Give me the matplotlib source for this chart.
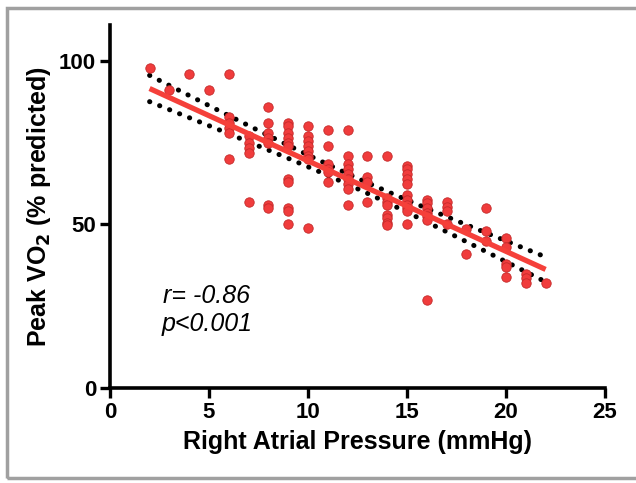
import numpy as np
import matplotlib
matplotlib.use("Agg")
import matplotlib.pyplot as plt
from matplotlib.patches import Rectangle

plt.rcParams['font.family'] = ['Liberation Sans', 'DejaVu Sans']

# Data: right atrial pressure (mmHg) vs peak VO2 (% predicted)
rap_values = {
    2: [98],
    3: [91],
    4: [96],
    5: [91],
    6: [96, 83, 81, 79.5, 78, 70],
    7: [77, 75, 73.5, 72, 57],
    8: [86, 81, 78, 76.5, 75, 56, 55],
    9: [81, 80, 78, 76.5, 75, 74, 64, 63, 55, 54, 50],
    10: [80, 77, 75.5, 74, 72.5, 71, 70, 49],
    11: [79, 74, 68.5, 67, 66, 63],
    12: [79, 71, 68.5, 67, 65.5, 64, 62.5, 61, 56],
    13: [71, 64.5, 63, 57],
    14: [71, 58, 57, 56, 53, 52, 50.5, 49.7],
    15: [68, 67, 65.5, 64, 62.5, 59, 57.5, 56, 55, 54, 50],
    16: [57.5, 56.5, 55, 53.5, 52.5, 51.5, 27],
    17: [57, 55.5, 54, 50],
    18: [48.5, 41],
    19: [55, 48, 45],
    20: [46, 43, 38, 37, 34],
    21: [35, 33.5, 32],
    22: [32],
}
x_ticks = [0, 5, 10, 15, 20, 25]
y_ticks = [0, 50, 100]
r_text = "r= -0.86"
p_text = "p<0.001"

rap = np.array([k for k, vs in rap_values.items() for _ in vs], dtype=float)
vo2 = np.array([v for vs in rap_values.values() for v in vs], dtype=float)

# Linear fit with 95% CI
n = len(rap)
slope, intercept = np.polyfit(rap, vo2, 1)
xf = np.linspace(rap.min(), rap.max(), 200)
yf = intercept + slope * xf
resid = vo2 - (intercept + slope * rap)
s = np.sqrt(np.sum(resid ** 2) / (n - 2))
xm = rap.mean()
sxx = np.sum((rap - xm) ** 2)
se = s * np.sqrt(1.0 / n + (xf - xm) ** 2 / sxx)
tval = 1.98
lo = yf - tval * se
hi = yf + tval * se

fig = plt.figure(figsize=(6.36, 4.83), dpi=100)
ax = fig.add_axes([110 / 636, 1 - 388 / 483, 495 / 636, 363 / 483])

red = '#f03c3c'
ax.scatter(rap, vo2, s=46, color=red, edgecolor='#c42a2a', linewidth=0.6, zorder=3)
ax.plot(xf, yf, color='#f5403a', lw=3.8, solid_capstyle='butt', zorder=4)
for band in (lo, hi):
    ax.plot(xf, band, color='black', lw=3.6, linestyle=(0, (0.05, 2.1)),
            dash_capstyle='round', zorder=2)

ax.set_xlim(0, 25)
ax.set_ylim(0, 111)
ax.set_xticks(x_ticks)
ax.set_yticks(y_ticks)
ax.spines['top'].set_visible(False)
ax.spines['right'].set_visible(False)
for sp in ('left', 'bottom'):
    ax.spines[sp].set_linewidth(2.6)
ax.tick_params(width=2.4, length=7, labelsize=16, pad=3)
for lab in ax.get_xticklabels() + ax.get_yticklabels():
    lab.set_fontweight('bold')

ax.set_xlabel('Right Atrial Pressure (mmHg)', fontsize=18, fontweight='bold', labelpad=5)
ax.set_ylabel('Peak VO$_\\mathbf{2}$ (% predicted)', fontsize=18, fontweight='bold', labelpad=4)

ax.text(2.7, 28, r_text, fontsize=18, style='italic', ha='left', va='center')
ax.text(2.6, 19.5, p_text, fontsize=18, style='italic', ha='left', va='center')

# gray frame around the figure
fig.patches.append(Rectangle((7 / 636, 5 / 483), 1.0, 1 - 13 / 483,
                             transform=fig.transFigure, fill=False,
                             edgecolor='#a0a0a0', linewidth=2.5))

fig.savefig('out.png', dpi=100)
